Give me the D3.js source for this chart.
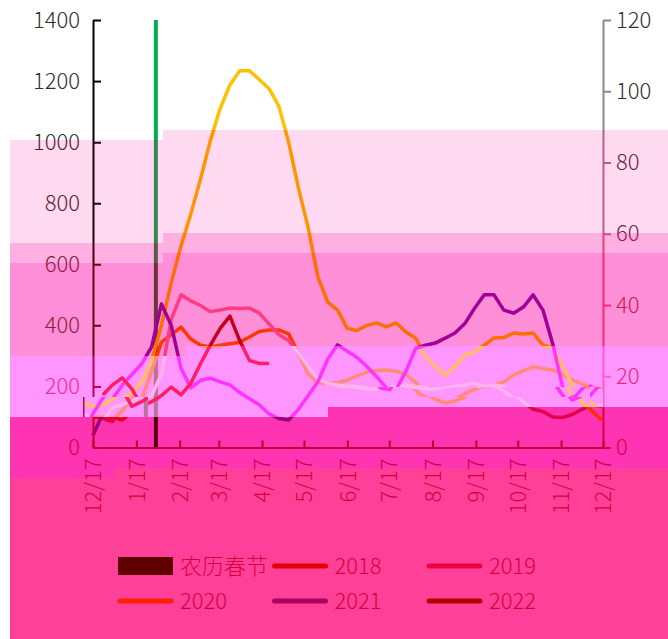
<!DOCTYPE html>
<html>
<head>
<meta charset="utf-8">
<script src="https://cdn.jsdelivr.net/npm/d3@7"></script>
<style>
html, body { margin: 0; padding: 0; background: #fff; }
svg { display: block; font-family: "Noto Sans CJK SC", "Noto Sans", sans-serif; font-weight: 300; }
</style>
</head>
<body>
<svg id="chart" width="668" height="639"></svg>
<script>
// ---- data (weekly points from 12/17) ----
var years = ["2018", "2019", "2020", "2021", "2022"];
var festivalLabel = "农历春节";
var festivalDate = "2019-01-31";
var weekStart = "2018-12-17";
var monthTicks = ["2018-12-17", "2019-01-17", "2019-02-17", "2019-03-17", "2019-04-17", "2019-05-17",
    "2019-06-17", "2019-07-17", "2019-08-17", "2019-09-17", "2019-10-17", "2019-11-17", "2019-12-17"];
var leftTicks = [0, 200, 400, 600, 800, 1000, 1200, 1400];
var rightTicks = [0, 20, 40, 60, 80, 100, 120];

var s2018 = [100, 98, 100, 90, 120, 160, 250, 345, 370, 394, 355, 335, 329, 335, 340, 345, 362, 380, 385, 385,
    372, 310, 240, 212, 210, 212, 220, 235, 247, 252, 254, 250, 240, 212, 175, 158, 146, 152, 165, 182,
    195, 205, 215, 237, 252, 264, 258, 254, 238, 222, 208, 198, 190];
var s2019 = [110, 95, 85, 130, 140, 150, 170, 240, 420, 500, 480, 465, 445, 450, 457, 455, 457, 440, 405, 370,
    350, 310, 265, 225, 210, 205, 200, 200, 195, 190, 195, 200, 205, 200, 195, 190, 195, 200, 205, 210,
    200, 205, 200, 175, 150, 125, 118, 100, 98, 108, 125, 140, 135];
var s2020 = [145, 135, 140, 158, 180, 215, 285, 400, 540, 660, 765, 880, 1005, 1110, 1187, 1234, 1234, 1205, 1175, 1118,
    1000, 850, 720, 557, 476, 450, 390, 383, 400, 408, 395, 408, 378, 358, 296, 265, 237, 265, 303, 313,
    335, 359, 360, 375, 372, 375, 335, 328, 265, 205, 150, 120, 90];
var s2021 = [40, 110, 160, 205, 240, 275, 330, 470, 400, 260, 195, 220, 227, 215, 205, 180, 160, 140, 110, 95,
    90, 125, 170, 215, 290, 336, 315, 295, 265, 232, 195, 190, 250, 325, 335, 342, 358, 375, 405, 455,
    500, 500, 450, 440, 460, 500, 450, 340, 200, 155, 170, 205];
var s2022 = [null, 172, 205, 228, 190, 135, 150, 170, 198, 172, 210, 275, 335, 390, 430, 350, 285, 275, 275];

// ---- looks of each colour band ----
var looks = {
    base: { bg: "#ffffff", text: "#2e2e2e", textR: "#2e2e2e", axis: "#000000", axisR: "#8a8a8a", bar: "#00b050",
        lines: ["#ff6a3a", "#ff80b0", "#ffc000", "#7030a0", "#c00000"] },
    p1: { bg: "rgb(255,218,241)", text: "rgb(95,25,50)", textR: "rgb(110,30,60)", axis: "rgb(40,0,20)", axisR: "rgb(185,95,135)",
        bar: "rgb(55,135,80)", lines: ["rgb(255,90,40)", "rgb(255,110,160)", "rgb(255,150,0)", "rgb(120,20,130)", "rgb(190,0,20)"] },
    p2: { bg: "rgb(255,176,226)", text: "rgb(130,20,55)", textR: "rgb(160,20,70)", axis: "rgb(70,0,20)", axisR: "rgb(220,70,130)",
        bar: "rgb(85,95,70)", lines: ["rgb(255,70,20)", "rgb(255,80,140)", "rgb(255,125,0)", "rgb(140,0,140)", "rgb(195,0,25)"] },
    p3: { bg: "rgb(255,143,216)", text: "rgb(150,25,60)", textR: "rgb(215,20,80)", axis: "rgb(110,0,20)", axisR: "rgb(255,40,110)",
        bar: "rgb(105,55,55)", lines: ["rgb(255,55,0)", "rgb(255,60,130)", "rgb(255,110,0)", "rgb(160,0,150)", "rgb(195,0,25)"] },
    p4: { bg: "rgb(255,150,255)", text: "rgb(240,45,140)", textR: "rgb(235,40,120)", axis: "rgb(190,0,90)", axisR: "rgb(255,90,210)",
        bar: "rgb(185,115,150)", lines: ["rgb(255,140,115)", "rgb(255,180,235)", "rgb(255,190,100)", "rgb(255,50,255)", "rgb(255,30,100)"] },
    p5a: { bg: "rgb(255,52,178)", text: "rgb(210,0,70)", textR: "rgb(210,0,70)", axis: "rgb(190,0,50)", axisR: "rgb(220,0,80)",
        bar: "rgb(85,0,15)", lines: ["rgb(235,0,0)", "rgb(225,0,75)", "rgb(255,45,0)", "rgb(150,0,120)", "rgb(175,0,0)"] },
    p5b: { bg: "rgb(255,64,152)", text: "rgb(215,0,62)", textR: "rgb(215,0,62)", axis: "rgb(200,0,50)", axisR: "rgb(200,0,50)",
        bar: "rgb(95,0,0)", lines: ["rgb(228,0,0)", "rgb(240,0,65)", "rgb(255,32,0)", "rgb(170,0,95)", "rgb(178,0,0)"] }
};

// band edges: y on the left, stepping 10px up from x = xs
var cuts = [{ y: 140, xs: 163 }, { y: 243, xs: 163 }, { y: 263, xs: 163 }, { y: 356, xs: 185 },
    { y: 417, xs: 328 }, { y: 478, xs: 115 }, { y: 649, xs: 668 }];
var bands = ["p1", "p2", "p3", "p4", "p5a", "p5b"];

var W = 668, H = 639, FS = "22px";
var svg = d3.select("#chart");
var defs = svg.append("defs");
var parse = d3.timeParse("%Y-%m-%d");
var start = parse(weekStart);
var x = d3.scaleTime().domain([parse(monthTicks[0]), parse(monthTicks[12])]).range([93, 603]);
var yL = d3.scaleLinear().domain([0, 1400]).range([447.5, 20]);
var yR = d3.scaleLinear().domain([0, 120]).range([447.5, 20]);
var allSeries = [s2018, s2019, s2020, s2021, s2022];
var legendNames = [festivalLabel].concat(years);

var line = d3.line()
    .defined(function(d) { return d != null; })
    .x(function(d, i) { return x(d3.timeDay.offset(start, 7 * i)); })
    .y(function(d) { return yL(d); });

function drawChart(g, pal) {
    g.append("rect").attr("width", W).attr("height", H).attr("fill", pal.bg);

    var fx = x(parse(festivalDate));
    g.append("rect")
        .attr("x", fx - 2).attr("width", 4)
        .attr("y", yR(120)).attr("height", yR(0) - yR(120))
        .attr("fill", pal.bar);

    allSeries.forEach(function(s, k) {
        g.append("path").datum(s)
            .attr("d", line)
            .attr("fill", "none")
            .attr("stroke", pal.lines[k])
            .attr("stroke-width", 3.5)
            .attr("stroke-linejoin", "round");
    });

    var ax = g.append("g").attr("transform", "translate(93,0)")
        .call(d3.axisLeft(yL).tickValues(leftTicks).tickSize(-8).tickSizeOuter(0)
            .tickPadding(13).tickFormat(d3.format("d")));
    var ar = g.append("g").attr("transform", "translate(603,0)")
        .call(d3.axisRight(yR).tickValues(rightTicks).tickSize(8).tickSizeOuter(0).tickPadding(5));
    var xa = g.append("g").attr("transform", "translate(0,447.5)")
        .call(d3.axisBottom(x).tickValues(monthTicks.map(parse)).tickSize(-7).tickSizeOuter(0)
            .tickFormat(d3.timeFormat("%-m/%-d")));
    [[ax, pal.axis, pal.text], [ar, pal.axisR, pal.textR], [xa, pal.axis, pal.text]].forEach(function(a) {
        a[0].attr("font-size", null).attr("font-family", null);
        a[0].select(".domain").attr("stroke", a[1]).attr("stroke-width", 2);
        a[0].selectAll(".tick line").attr("stroke", a[1]).attr("stroke-width", 2);
        a[0].selectAll("text").attr("fill", a[2]).style("font-size", FS);
    });
    xa.selectAll("text")
        .attr("transform", "rotate(-90)")
        .attr("x", -11).attr("y", 0).attr("dy", "0.35em")
        .attr("text-anchor", "end");

    var lg = g.append("g");
    legendNames.forEach(function(name, k) {
        var cx = 118 + (k % 3) * 154.5, cy = 566 + Math.floor(k / 3) * 35;
        if (k === 0) {
            lg.append("rect").attr("x", cx).attr("y", cy - 9).attr("width", 55).attr("height", 18).attr("fill", pal.bar);
        } else {
            lg.append("line").attr("x1", cx + 2).attr("x2", cx + 53).attr("y1", cy).attr("y2", cy)
                .attr("stroke", pal.lines[k - 1]).attr("stroke-width", 5).attr("stroke-linecap", "round");
        }
        lg.append("text").attr("x", cx + 62).attr("y", cy).attr("dy", "0.36em")
            .attr("fill", pal.text).style("font-size", FS).text(name);
    });
}

function bandPoly(a, b) {
    var u = cuts[a], l = cuts[b];
    return [[10, u.y], [u.xs, u.y], [u.xs, u.y - 10], [W, u.y - 10], [W, l.y - 10], [l.xs, l.y - 10], [l.xs, l.y], [10, l.y]];
}

// plain chart
drawChart(svg.append("g"), looks.base);

// colour bands
bands.forEach(function(b, k) {
    var id = "band" + k;
    defs.append("clipPath").attr("id", id).append("polygon")
        .attr("points", bandPoly(k, k + 1).map(function(p) { return p.join(","); }).join(" "));
    drawChart(svg.append("g").attr("clip-path", "url(#" + id + ")"), looks[b]);
});

// shifted glitch strips
var strips = [
    { x: 83, y: 397, w: 65, h: 20, dx: -10, look: "p4" },
    { x: 328, y: 387, w: 262, h: 10, dx: -6, look: "p4" },
    { x: 590, y: 387, w: 13, h: 20, dx: 8, look: "p4" }
];
strips.forEach(function(s, k) {
    var id = "strip" + k;
    defs.append("clipPath").attr("id", id).append("rect")
        .attr("x", s.x).attr("y", s.y).attr("width", s.w).attr("height", s.h);
    var g = svg.append("g").attr("clip-path", "url(#" + id + ")").append("g")
        .attr("transform", "translate(" + s.dx + ",0)");
    drawChart(g, looks[s.look]);
});
</script>
</body>
</html>
